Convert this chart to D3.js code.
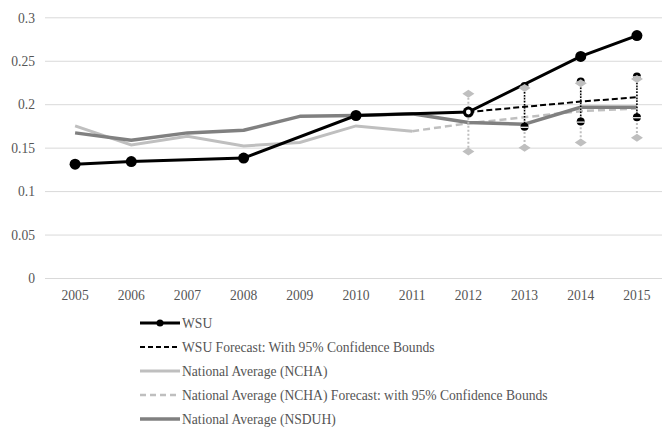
<!DOCTYPE html>
<html>
<head>
<meta charset="utf-8">
<script src="https://cdn.jsdelivr.net/npm/d3@7"></script>
<style>
  body { margin: 0; background: #fff; }
  svg text { font-family: "Liberation Serif", serif; font-size: 13.6px; fill: #555; }
</style>
</head>
<body>
<div id="chart"></div>
<script>
const ancho = 662;
const alto = 427;

// datos
const years = [2005, 2006, 2007, 2008, 2009, 2010, 2011, 2012, 2013, 2014, 2015];
const wsu = [0.131, 0.134, null, 0.138, null, 0.187, null, 0.191, null, 0.255, 0.279];
const wsuForecast = [null, null, null, null, null, null, null, 0.191, 0.197, 0.203, 0.208];
const wsuUpper = [null, null, null, null, null, null, null, null, 0.221, 0.226, 0.232];
const wsuLower = [null, null, null, null, null, null, null, null, 0.174, 0.180, 0.185];
const ncha = [0.175, 0.153, 0.163, 0.152, 0.156, 0.175, 0.169, null, null, null, null];
const nchaForecast = [null, null, null, null, null, null, 0.169, 0.178, 0.185, 0.192, 0.195];
const nchaUpper = [null, null, null, null, null, null, null, 0.212, 0.2185, 0.224, 0.229];
const nchaLower = [null, null, null, null, null, null, null, 0.1455, 0.150, 0.156, 0.1615];
const nsduh = [0.167, 0.1585, 0.167, 0.170, 0.186, 0.187, 0.189, 0.179, 0.177, 0.1965, 0.1965];
const yTicks = [0, 0.05, 0.1, 0.15, 0.2, 0.25, 0.3];
const legendLabels = [
  "WSU",
  "WSU Forecast: With 95% Confidence Bounds",
  "National Average (NCHA)",
  "National Average (NCHA) Forecast: with 95% Confidence Bounds",
  "National Average (NSDUH)",
];

const svg = d3.select("#chart").append("svg")
  .attr("width", ancho).attr("height", alto);

// escalas
const x = d3.scaleBand().domain(years).range([47, 665]);
const y = d3.scaleLinear().domain([0, 0.3]).range([278, 17.3]);
const cx = (yr) => x(yr) + x.bandwidth() / 2;

// rejilla y etiquetas del eje Y
const ejeY = d3.axisLeft(y).tickValues(yTicks).tickSize(-(662 - 45)).tickFormat(d3.format("~g"));
const grupoY = svg.append("g").attr("transform", "translate(45,0)").call(ejeY);
grupoY.select(".domain").remove();
grupoY.selectAll(".tick line").attr("stroke", "#d9d9d9").attr("stroke-width", 1);
grupoY.selectAll(".tick text").attr("x", -10).attr("dy", "0.35em");

// eje X
const ejeX = d3.axisBottom(x).tickSize(0);
const grupoX = svg.append("g").attr("transform", "translate(0,278)").call(ejeX);
grupoX.select(".domain").remove();
grupoX.selectAll(".tick text").attr("dy", "1.4em");

const toPts = (arr) => years.map((yr, i) => ({ yr, v: arr[i] })).filter((d) => d.v != null);
const line = d3.line().x((d) => cx(d.yr)).y((d) => y(d.v));

// series
svg.append("path").datum(toPts(ncha)).attr("fill", "none")
  .attr("stroke", "#bfbfbf").attr("stroke-width", 3).attr("d", line);
svg.append("path").datum(toPts(nchaForecast)).attr("fill", "none")
  .attr("stroke", "#bfbfbf").attr("stroke-width", 2.5).attr("stroke-dasharray", "7,4").attr("d", line);
svg.append("path").datum(toPts(nsduh)).attr("fill", "none")
  .attr("stroke", "#808080").attr("stroke-width", 3.5).attr("stroke-linejoin", "round").attr("d", line);

// barras de confianza
const nchaBars = years.map((yr, i) => ({ yr, lo: nchaLower[i], hi: nchaUpper[i] })).filter((d) => d.lo != null);
const wsuBars = years.map((yr, i) => ({ yr, lo: wsuLower[i], hi: wsuUpper[i] })).filter((d) => d.lo != null);

svg.selectAll(".nchaBar").data(nchaBars).enter().append("line")
  .attr("x1", (d) => cx(d.yr)).attr("x2", (d) => cx(d.yr))
  .attr("y1", (d) => y(d.hi)).attr("y2", (d) => y(d.lo))
  .attr("stroke", "#bfbfbf").attr("stroke-width", 2).attr("stroke-dasharray", "2,2");
svg.selectAll(".wsuBar").data(wsuBars).enter().append("line")
  .attr("x1", (d) => cx(d.yr)).attr("x2", (d) => cx(d.yr))
  .attr("y1", (d) => y(d.hi)).attr("y2", (d) => y(d.lo))
  .attr("stroke", "#000").attr("stroke-width", 1.5).attr("stroke-dasharray", "1.5,1.5");

svg.append("path").datum(toPts(wsuForecast)).attr("fill", "none")
  .attr("stroke", "#000").attr("stroke-width", 2).attr("stroke-dasharray", "6,3").attr("d", line);

svg.append("path").datum(toPts(wsu)).attr("fill", "none")
  .attr("stroke", "#000").attr("stroke-width", 3).attr("d", line);
svg.selectAll(".wsuDot").data(toPts(wsu)).enter().append("circle")
  .attr("cx", (d) => cx(d.yr)).attr("cy", (d) => y(d.v)).attr("r", 5.5).attr("fill", "#000");
// marcador inicio del pronostico
svg.append("circle").datum(toPts(wsuForecast)[0])
  .attr("cx", (d) => cx(d.yr)).attr("cy", (d) => y(d.v)).attr("r", 2.4).attr("fill", "#fff");

// extremos WSU: circulos negros con raya blanca
const wsuEnds = [];
wsuBars.forEach((d) => { wsuEnds.push({ yr: d.yr, v: d.hi }); wsuEnds.push({ yr: d.yr, v: d.lo }); });
svg.selectAll(".wsuEnd").data(wsuEnds).enter().append("circle")
  .attr("cx", (d) => cx(d.yr)).attr("cy", (d) => y(d.v)).attr("r", 4).attr("fill", "#000");
svg.selectAll(".wsuEndLine").data(wsuEnds).enter().append("line")
  .attr("x1", (d) => cx(d.yr) - 4).attr("x2", (d) => cx(d.yr) + 4)
  .attr("y1", (d) => y(d.v) + 0.5).attr("y2", (d) => y(d.v) + 0.5)
  .attr("stroke", "#fff").attr("stroke-width", 1.2);

// rombos NCHA
const nchaEnds = [];
nchaBars.forEach((d) => { nchaEnds.push({ yr: d.yr, v: d.hi }); nchaEnds.push({ yr: d.yr, v: d.lo }); });
svg.selectAll(".nchaEnd").data(nchaEnds).enter().append("path")
  .attr("transform", (d) => `translate(${cx(d.yr)},${y(d.v)})`)
  .attr("d", "M-6,0L0,-4L6,0L0,4Z").attr("fill", "#bfbfbf");

// leyenda
const legendY = d3.scalePoint().domain(legendLabels).range([323, 419]);
const legend = svg.append("g");
const estilos = [
  { stroke: "#000", width: 3, dash: null },
  { stroke: "#000", width: 2, dash: "5,3" },
  { stroke: "#bfbfbf", width: 3, dash: null },
  { stroke: "#bfbfbf", width: 2.5, dash: "6,4" },
  { stroke: "#808080", width: 3.5, dash: null },
];
legendLabels.forEach((lab, i) => {
  const ly = legendY(lab);
  legend.append("line").attr("x1", 140).attr("x2", 180).attr("y1", ly).attr("y2", ly)
    .attr("stroke", estilos[i].stroke).attr("stroke-width", estilos[i].width)
    .attr("stroke-dasharray", estilos[i].dash);
  if (i === 0) legend.append("circle").attr("cx", 160).attr("cy", ly).attr("r", 3.5).attr("fill", "#000");
  legend.append("text").attr("x", 182).attr("y", ly).attr("dy", "0.35em").text(lab);
});
</script>
</body>
</html>
